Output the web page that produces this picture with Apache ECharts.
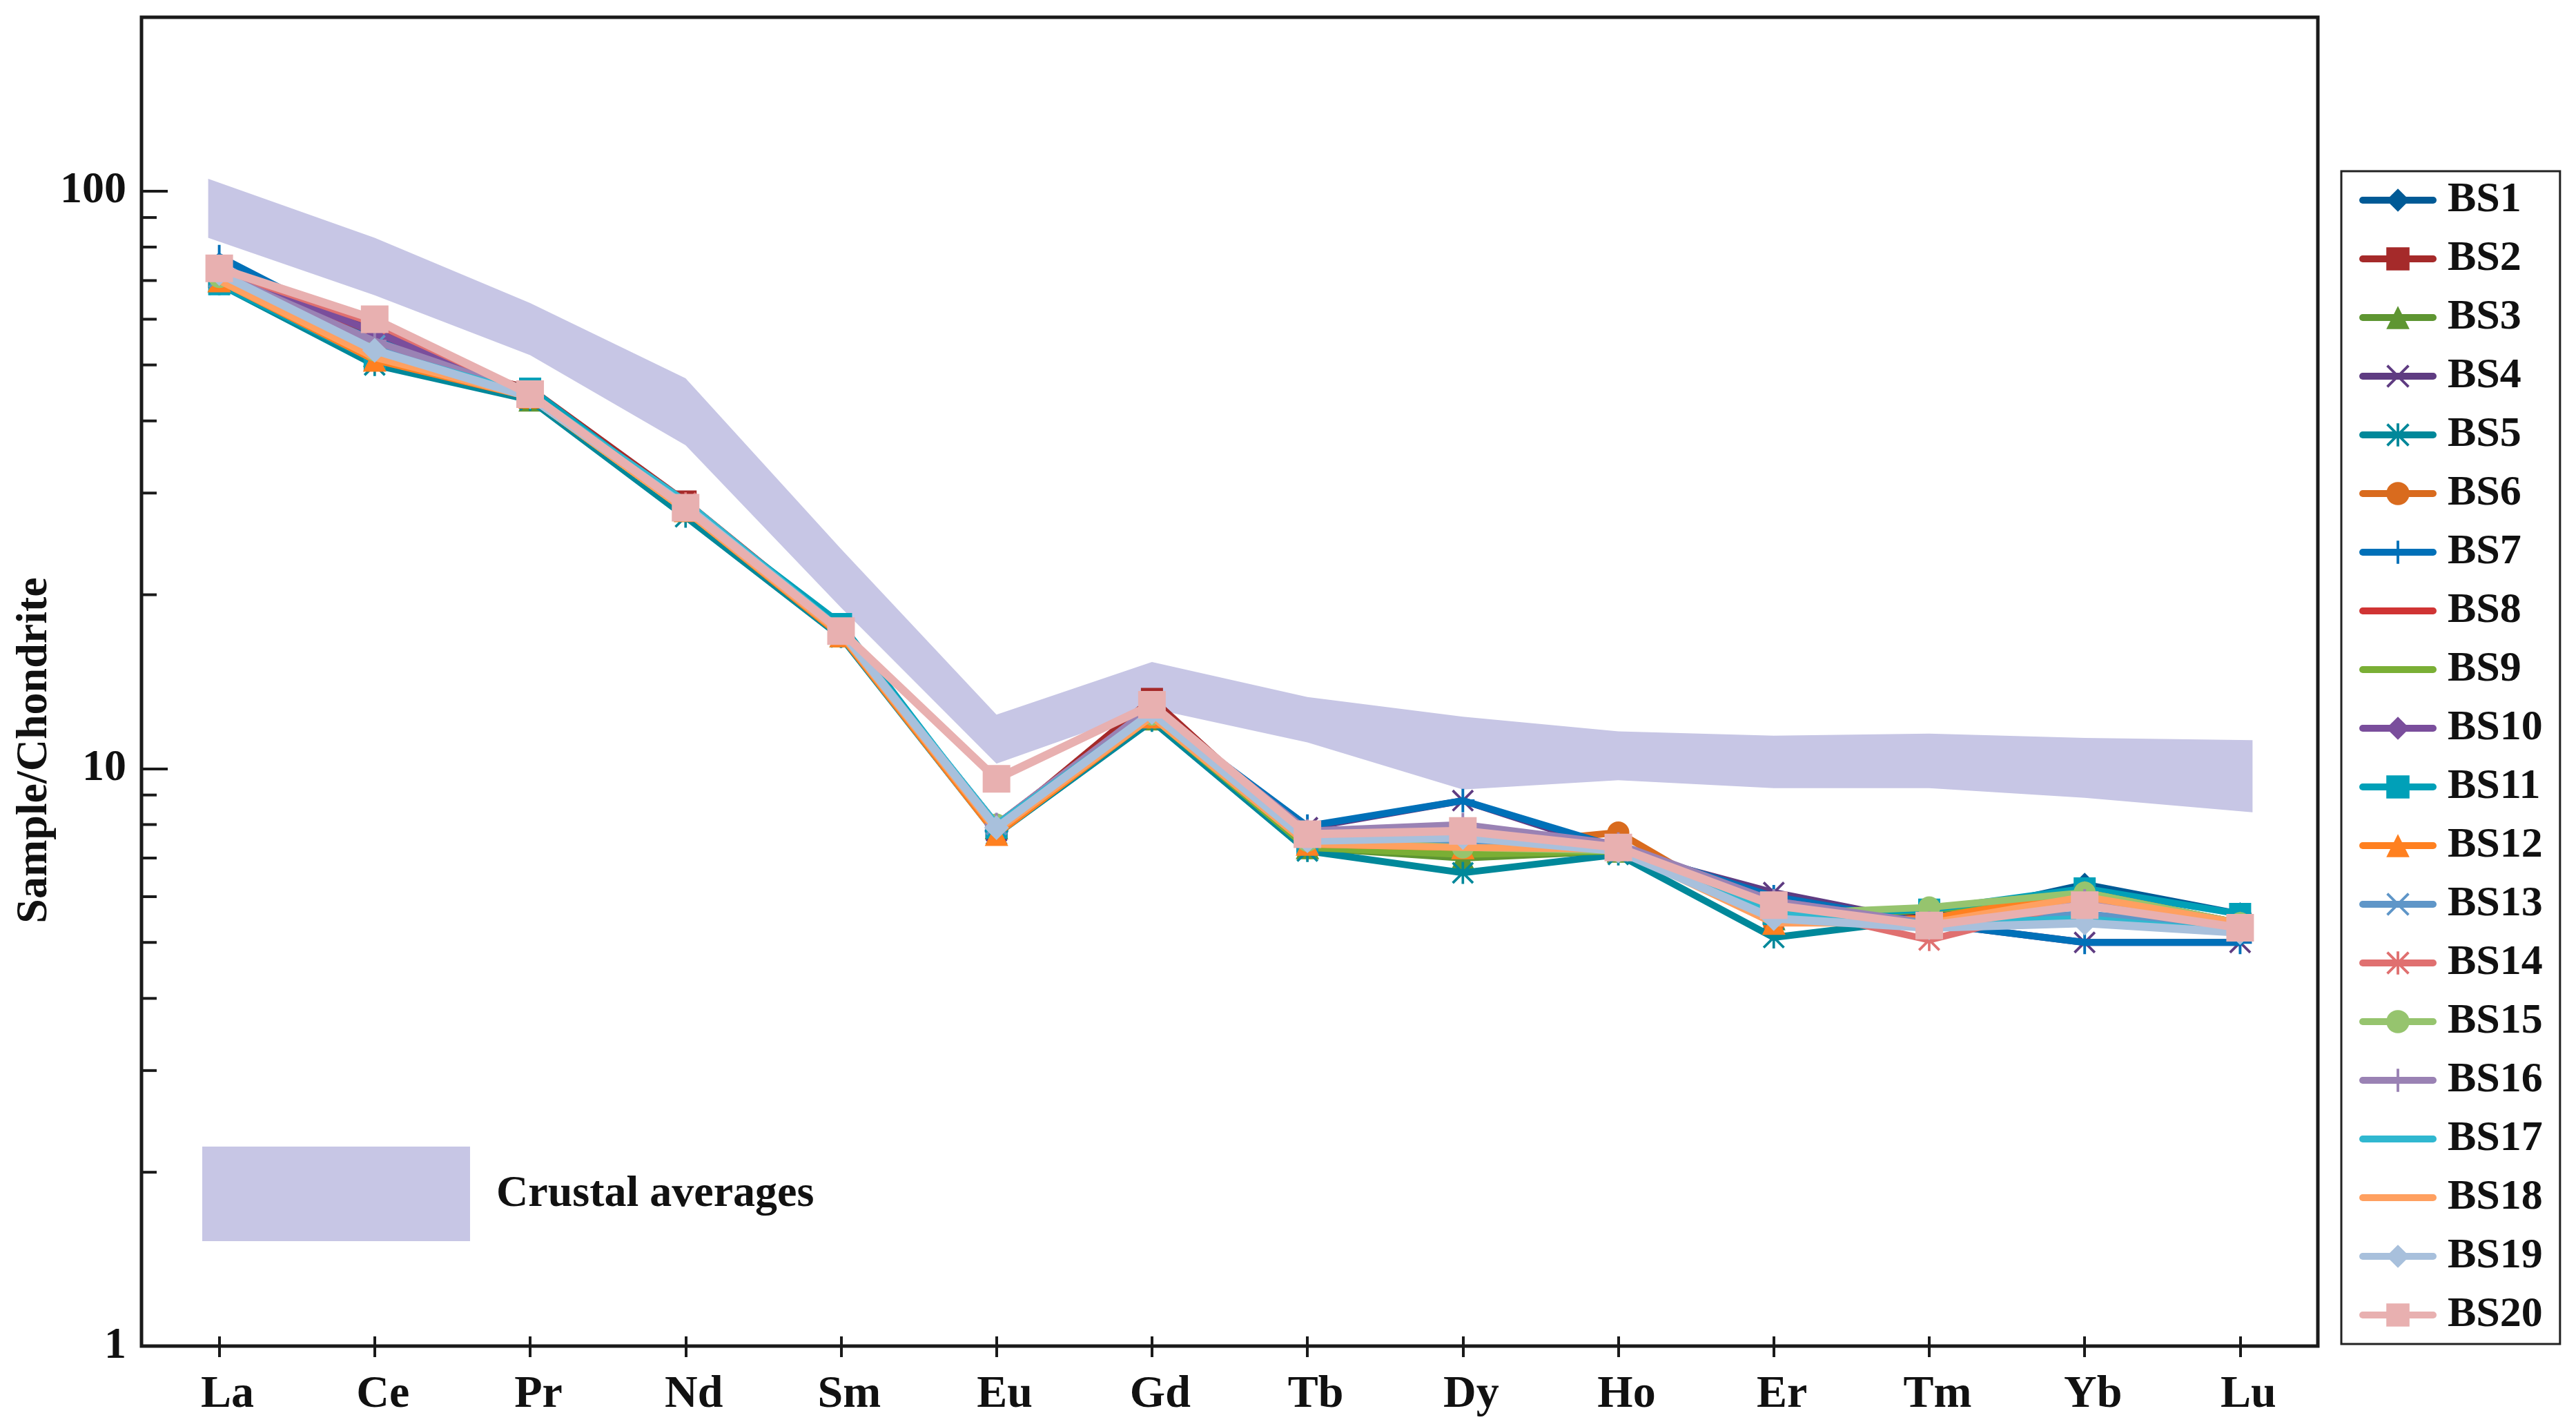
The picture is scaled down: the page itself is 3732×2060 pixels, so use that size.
<!DOCTYPE html>
<html>
<head>
<meta charset="utf-8">
<script src="https://cdn.jsdelivr.net/npm/echarts@6/dist/echarts.min.js"></script>
<style>
html,body{margin:0;padding:0;background:#ffffff;}
#chart{width:3732px;height:2060px;}
</style>
</head>
<body>
<div id="chart"></div>
<script>
// ---------- data ----------
var elements = ['La','Ce','Pr','Nd','Sm','Eu','Gd','Tb','Dy','Ho','Er','Tm','Yb','Lu'];
var seriesNames = ['BS1','BS2','BS3','BS4','BS5','BS6','BS7','BS8','BS9','BS10','BS11','BS12','BS13','BS14','BS15','BS16','BS17','BS18','BS19','BS20'];
var BS1  = [73, 56, 44.5, 28.3, 17.3, 7.8, 12.6, 7.5, 7.3, 7.2, 5.8, 5.5, 6.3, 5.6];
var BS2  = [71, 53, 45.5, 29.0, 17.5, 7.9, 13.2, 7.5, 7.3, 7.3, 5.6, 5.5, 6.0, 5.4];
var BS3  = [70, 52, 43.5, 28.0, 17.0, 7.9, 12.2, 7.3, 7.0, 7.2, 5.5, 5.7, 6.0, 5.4];
var BS4  = [74, 58, 44.5, 28.5, 17.3, 7.8, 12.6, 7.9, 8.8, 7.2, 6.1, 5.4, 5.0, 5.0];
var BS5  = [69, 50, 43.5, 27.3, 16.9, 7.7, 12.1, 7.2, 6.6, 7.1, 5.1, 5.5, 6.1, 5.4];
var BS6  = [71, 52, 44.0, 28.0, 17.0, 7.8, 12.5, 7.5, 7.3, 7.75, 5.4, 5.5, 6.0, 5.4];
var BS7  = [77, 56, 44.5, 28.5, 17.3, 7.8, 12.6, 7.95, 8.8, 7.3, 6.0, 5.4, 5.0, 5.0];
var BS8  = [72, 57, 44.5, 28.8, 17.2, 8.0, 12.8, 7.6, 7.6, 7.3, 5.8, 5.4, 5.8, 5.3];
var BS9  = [70, 52, 44.0, 28.0, 17.0, 7.9, 12.3, 7.3, 7.1, 7.2, 5.5, 5.7, 6.0, 5.4];
var BS10 = [73, 57, 44.5, 28.5, 17.3, 8.0, 12.7, 7.6, 7.6, 7.2, 5.9, 5.4, 5.8, 5.3];
var BS11 = [69, 51, 45.5, 28.5, 17.8, 7.9, 12.4, 7.4, 7.6, 7.3, 5.6, 5.7, 6.2, 5.6];
var BS12 = [70, 51, 44.0, 28.0, 17.0, 7.7, 12.3, 7.4, 7.3, 7.3, 5.4, 5.5, 6.1, 5.4];
var BS13 = [71, 54, 44.5, 28.3, 17.3, 8.0, 12.6, 7.6, 7.5, 7.2, 5.7, 5.4, 5.6, 5.3];
var BS14 = [73, 59, 44.5, 28.8, 17.3, 9.6, 12.9, 7.7, 7.8, 7.3, 5.8, 5.05, 5.9, 5.3];
var BS15 = [71, 53, 44.0, 28.0, 17.2, 8.0, 12.4, 7.5, 7.3, 7.2, 5.6, 5.75, 6.1, 5.4];
var BS16 = [72, 55, 44.5, 28.5, 17.3, 8.0, 12.8, 7.8, 8.0, 7.4, 5.9, 5.4, 5.9, 5.3];
var BS17 = [71, 53, 44.5, 29.0, 17.4, 8.0, 12.5, 7.6, 7.6, 7.2, 5.6, 5.4, 5.5, 5.2];
var BS18 = [70, 51.5, 44.0, 28.0, 17.1, 7.8, 12.3, 7.4, 7.3, 7.25, 5.4, 5.4, 6.0, 5.4];
var BS19 = [72, 53, 44.0, 28.5, 17.3, 7.9, 12.5, 7.5, 7.6, 7.2, 5.5, 5.3, 5.4, 5.2];
var BS20 = [73.5, 60, 44.5, 28.3, 17.3, 9.6, 12.9, 7.7, 7.8, 7.3, 5.8, 5.35, 5.8, 5.3];
var crustUpper = [105, 83, 64, 47.4, 24, 12.4, 15.3, 13.3, 12.3, 11.6, 11.4, 11.5, 11.3, 11.2];
var crustLower = [83, 66, 52, 36.3, 19, 10.2, 12.7, 11.1, 9.2, 9.55, 9.25, 9.25, 8.9, 8.4];
var yMajorTicks = [1, 10, 100];
var yMinorTicks = [2,3,4,5,6,7,8,9,20,30,40,50,60,70,80,90];

// ---------- styling ----------
var values = [BS1,BS2,BS3,BS4,BS5,BS6,BS7,BS8,BS9,BS10,BS11,BS12,BS13,BS14,BS15,BS16,BS17,BS18,BS19,BS20];
var colors = ['#005a96','#a52a2a','#5e9632','#5f3c82','#00889a','#d96b1e','#0070b8','#d03434','#7aaf35','#7a4e9c',
              '#00a0b8','#ff8020','#5f96c8','#e07070','#96c46e','#9a82b4','#30b8d0','#ffa060','#a8c0dc','#e8b0b0'];
var X_PATH = 'path://M-18.2,-21.8L21.8,18.2L18.2,21.8L-21.8,-18.2Z M18.2,-21.8L21.8,-18.2L-18.2,21.8L-21.8,18.2Z';
var PLUS_PATH = 'path://M-2.5,-21.8H2.5V21.8H-2.5Z M-21.8,-2.5H21.8V2.5H-21.8Z';
var AST_PATH = 'path://M-18.2,-21.8L21.8,18.2L18.2,21.8L-21.8,-18.2Z M18.2,-21.8L21.8,-18.2L-18.2,21.8L-21.8,18.2Z M-2.5,-21.8H2.5V21.8H-2.5Z';
var symbols = ['diamond','rect','triangle',X_PATH,AST_PATH,'circle',PLUS_PATH,'none','none','diamond',
               'rect','triangle',X_PATH,AST_PATH,'circle',PLUS_PATH,'none','none','diamond','rect'];
var sizes = [34,32,34,32,32,32,34,0,0,34,32,34,32,32,32,34,0,0,36,40];
var FONT = '"Liberation Serif","Times New Roman",serif';
var bandColor = '#c7c6e5';

var series = [];
// crustal band
series.push({
  type: 'custom',
  name: 'Crustal averages',
  z: 1,
  silent: true,
  data: elements.map(function (e, i) { return [i, crustLower[i], crustUpper[i]]; }),
  renderItem: function (params, api) {
    if (params.dataIndex !== 0) return null;
    var top = [], bot = [];
    for (var i = 0; i < elements.length; i++) {
      top.push(api.coord([i, crustUpper[i]]));
      bot.push(api.coord([i, crustLower[i]]));
    }
    top[0] = [top[0][0] - 16, top[0][1]];
    bot[0] = [bot[0][0] - 16, bot[0][1]];
    var n = elements.length - 1;
    top[n] = [top[n][0] + 18, top[n][1]];
    bot[n] = [bot[n][0] + 18, bot[n][1]];
    var pts = top.concat(bot.reverse());
    return { type: 'polygon', shape: { points: pts }, style: { fill: bandColor } };
  }
});
// minor y ticks
series.push({
  type: 'custom',
  z: 5,
  silent: true,
  data: yMinorTicks.map(function (v) { return [0, v]; }),
  renderItem: function (params, api) {
    var p = api.coord([0, api.value(1)]);
    var x0 = params.coordSys.x;
    return { type: 'line', shape: { x1: x0, y1: p[1], x2: x0 + 22, y2: p[1] }, style: { stroke: '#1a1a1a', lineWidth: 4 } };
  }
});
for (var s = 0; s < seriesNames.length; s++) {
  series.push({
    type: 'line',
    name: seriesNames[s],
    data: values[s],
    z: 10 + s,
    symbol: symbols[s],
    symbolSize: sizes[s],
    showSymbol: symbols[s] !== 'none',
    lineStyle: { width: (s >= 18 ? 12 : 10), color: colors[s], cap: 'round', join: 'round' },
    itemStyle: { color: colors[s] },
    emphasis: { disabled: true },
    animation: false
  });
}

var legendData = seriesNames.map(function (n, i) {
  if (symbols[i] === 'none') {
    return { name: n, itemStyle: { color: 'rgba(0,0,0,0)', opacity: 0, borderWidth: 0 } };
  }
  return { name: n };
});

var chart = echarts.init(document.getElementById('chart'));
chart.setOption({
  animation: false,
  backgroundColor: '#ffffff',
  grid: { left: 205, right: 374, top: 25, bottom: 110, show: true, borderColor: '#1a1a1a', borderWidth: 5, backgroundColor: 'transparent', outerBoundsMode: 'none', containLabel: false },
  xAxis: [{
    type: 'category',
    data: elements,
    boundaryGap: true,
    axisLine: { show: false },
    axisTick: { show: true, alignWithLabel: true, inside: false, length: 16, lineStyle: { color: '#1a1a1a', width: 4 } },
    axisLabel: { fontFamily: FONT, fontWeight: 'bold', fontSize: 66, color: '#111', margin: 38, padding: [0, 0, 0, 24] },
    splitLine: { show: false }
  }, {
    type: 'category',
    data: elements,
    boundaryGap: true,
    position: 'bottom',
    axisLine: { show: false },
    axisTick: { show: true, alignWithLabel: true, inside: true, length: 14, lineStyle: { color: '#1a1a1a', width: 4 } },
    axisLabel: { show: false },
    splitLine: { show: false }
  }],
  yAxis: {
    type: 'log',
    logBase: 10,
    min: 1,
    max: 200,
    axisLine: { show: false },
    axisTick: { show: true, inside: true, length: 38, lineStyle: { color: '#1a1a1a', width: 4 } },
    axisLabel: {
      fontFamily: FONT, fontWeight: 'bold', fontSize: 64, color: '#111', margin: 22,
      formatter: function (v) { return yMajorTicks.indexOf(Math.round(v)) >= 0 ? String(Math.round(v)) : ''; }
    },
    splitLine: { show: false }
  },
  legend: {
    orient: 'vertical',
    left: 3392,
    top: 248,
    data: legendData,
    padding: [11, 25, 11, 26],
    itemWidth: 102,
    itemHeight: 42,
    itemGap: 23,
    borderColor: '#222',
    borderWidth: 3,
    backgroundColor: '#ffffff',
    selectedMode: false,
    lineStyle: { width: 10, cap: 'round' },
    textStyle: { fontFamily: FONT, fontWeight: 'bold', fontSize: 62, lineHeight: 62, color: '#111', padding: [0, 0, 0, 16] }
  },
  graphic: [
    { type: 'text', x: 50, y: 1087, rotation: Math.PI / 2,
      style: { text: 'Sample/Chondrite', font: 'bold 64px "Liberation Serif", serif', fill: '#111', align: 'center', verticalAlign: 'middle' }, z: 2 },
    { type: 'rect', left: 293, top: 1661, shape: { width: 388, height: 137 }, style: { fill: bandColor }, z: 2 },
    { type: 'text', left: 719, top: 1698, style: { text: 'Crustal averages', font: 'bold 64px "Liberation Serif", serif', fill: '#111' }, z: 2 }
  ],
  series: series
});
</script>
</body>
</html>
